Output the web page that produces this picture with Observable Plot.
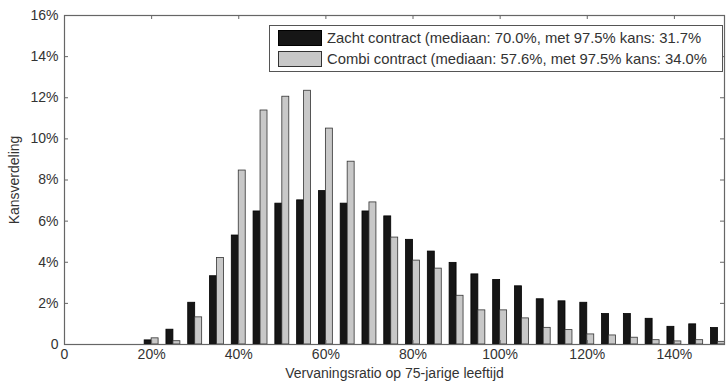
<!DOCTYPE html>
<html>
<head>
<meta charset="utf-8">
<script src="https://cdn.jsdelivr.net/npm/d3@7"></script>
<script src="https://cdn.jsdelivr.net/npm/@observablehq/plot@0.6"></script>
<style>
  body { margin: 0; background: #fff; }
  #wrap { position: relative; width: 726px; height: 382px; font-family: "Liberation Sans", Arial, sans-serif; color: #333; }
  #legend { position: absolute; left: 269px; top: 25px; width: 454px; height: 47px; border: 1px solid #555; background: #fff; box-sizing: border-box; font-size: 14.8px; }
  .row { position: absolute; left: 8px; display: flex; align-items: center; white-space: nowrap; }
  .sw { width: 44px; height: 16px; box-sizing: border-box; border: 1px solid #333; margin-right: 5px; }
</style>
</head>
<body>
<div id="wrap"></div>
<script>
const categories = [20,25,30,35,40,45,50,55,60,65,70,75,80,85,90,95,100,105,110,115,120,125,130,135,140,145,150];
const zacht = [0.2,0.72,2.03,3.32,5.30,6.47,6.85,7.01,7.46,6.85,6.47,6.23,5.09,4.52,3.97,3.41,3.14,2.83,2.20,2.10,2.03,1.48,1.48,1.25,0.86,0.98,0.80];
const combi = [0.3,0.16,1.32,4.21,8.46,11.38,12.05,12.34,10.50,8.89,6.91,5.20,4.08,3.69,2.37,1.66,1.66,1.27,0.81,0.70,0.49,0.44,0.33,0.21,0.15,0.21,0.13];
const xTicks = [0,20,40,60,80,100,120,140];
const yTicks = [0,2,4,6,8,10,12,14,16];
const seriesNames = [
  "Zacht contract (mediaan: 70.0%, met 97.5% kans: 31.7%",
  "Combi contract (mediaan: 57.6%, met 97.5% kans: 34.0%"
];
const xLabel = "Vervaningsratio op 75-jarige leeftijd";
const yLabel = "Kansverdeling";

const data = categories.map((c, i) => ({x: c, zacht: zacht[i], combi: combi[i]}));
const BW = 1.6;
const fmt = d => d === 0 ? "0" : d + "%";

const W = 726, H = 382, mL = 64, mR = 2, mT = 15, mB = 38;
const innerW = W - mL - mR, innerH = H - mT - mB;
const tickLen = 4;

const chart = Plot.plot({
  width: W, height: H,
  marginLeft: mL, marginRight: mR, marginTop: mT, marginBottom: mB,
  style: {fontFamily: '"Liberation Sans", Arial, sans-serif', fontSize: "14px", color: "#333", background: "#fff"},
  x: {domain: [0, 151.5]},
  y: {domain: [0, 16]},
  marks: [
    Plot.rect(data, {x1: d => d.x - BW, x2: d => d.x, y1: 0, y2: "zacht", fill: "#161616", stroke: "#000", strokeWidth: 0.8, clip: true}),
    Plot.rect(data, {x1: d => d.x, x2: d => d.x + BW, y1: 0, y2: "combi", fill: "#c8c8c8", stroke: "#333", strokeWidth: 0.8, clip: true}),
    Plot.ruleX(xTicks, {insetBottom: innerH - tickLen, stroke: "#666"}),
    Plot.ruleX(xTicks, {insetTop: innerH - tickLen, stroke: "#666"}),
    Plot.ruleY(yTicks, {insetRight: innerW - tickLen, stroke: "#666"}),
    Plot.ruleY(yTicks, {insetLeft: innerW - tickLen, stroke: "#666"}),
    Plot.frame({stroke: "#666", strokeWidth: 1.2}),
    Plot.axisX({ticks: xTicks, tickFormat: fmt, tickSize: 0, tickPadding: 5, label: null, fontSize: 14}),
    Plot.axisY({ticks: yTicks, tickFormat: fmt, tickSize: 0, tickPadding: 6, label: null, fontSize: 14}),
    Plot.text([xLabel], {frameAnchor: "bottom", dy: 29, lineAnchor: "middle", text: d => d, fontSize: 14}),
    Plot.text([yLabel], {frameAnchor: "left", dx: -50, rotate: -90, textAnchor: "middle", text: d => d, fontSize: 14})
  ]
});

const wrap = document.getElementById("wrap");
wrap.appendChild(chart);

const legend = document.createElement("div");
legend.id = "legend";
const fills = [["#161616", "#000"], ["#c8c8c8", "#333"]];
seriesNames.forEach((name, i) => {
  const row = document.createElement("div");
  row.className = "row";
  row.style.top = (i === 0 ? 4 : 25) + "px";
  const sw = document.createElement("div");
  sw.className = "sw";
  sw.style.background = fills[i][0];
  sw.style.borderColor = fills[i][1];
  const t = document.createElement("span");
  t.textContent = name;
  row.appendChild(sw);
  row.appendChild(t);
  legend.appendChild(row);
});
wrap.appendChild(legend);
</script>
</body>
</html>
